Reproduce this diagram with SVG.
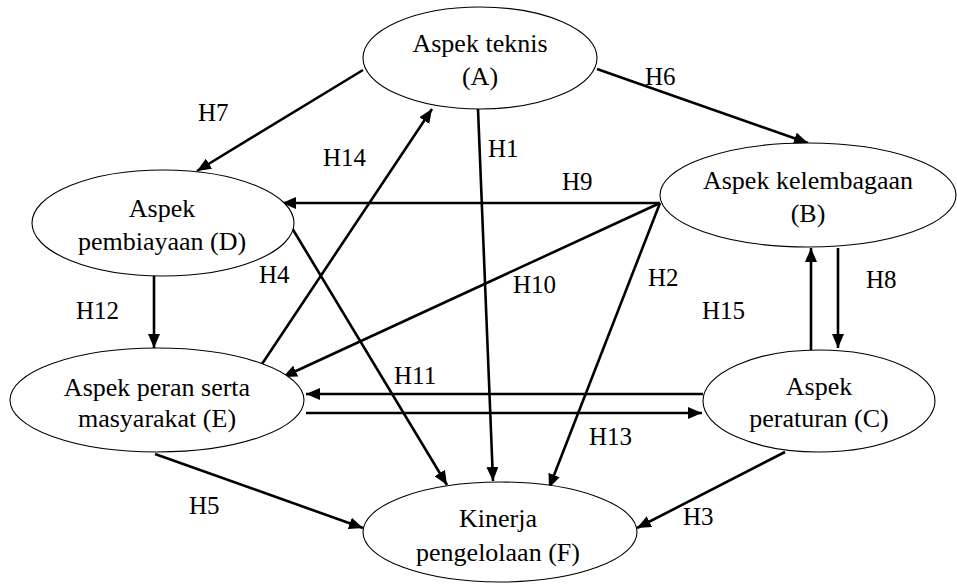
<svg xmlns="http://www.w3.org/2000/svg" width="957" height="584" viewBox="0 0 957 584">
  <style>
    .node ellipse { fill: #ffffff; stroke: #000000; stroke-width: 1.1; }
    .node text { font-family: "Liberation Serif", "Times New Roman", serif; font-size: 26px; fill: #000000; text-anchor: middle; }
    .edges line { stroke: #000000; stroke-width: 2.6; marker-end: url(#arrow); }
    .labels text { font-family: "Liberation Serif", "Times New Roman", serif; font-size: 25px; fill: #000000; }
  </style>
  <defs>
    <marker id="arrow" markerUnits="userSpaceOnUse" markerWidth="14" markerHeight="12" viewBox="0 0 14 12" refX="14" refY="6" orient="auto">
      <path d="M0,0 L14,6 L0,12 Z" fill="#000000"/>
    </marker>
  </defs>
  <rect width="957" height="584" fill="#ffffff"/>

  <g class="edges" id="connectors">
    <line x1="363" y1="70" x2="197" y2="171"/>
    <line x1="262" y1="364" x2="432" y2="109"/>
    <line x1="597" y1="69" x2="808" y2="143"/>
    <line x1="478" y1="109" x2="493" y2="481"/>
    <line x1="660" y1="203" x2="282" y2="203"/>
    <line x1="660" y1="203" x2="283" y2="377"/>
    <line x1="660" y1="203" x2="549" y2="488"/>
    <line x1="292" y1="228" x2="447" y2="485"/>
    <line x1="154" y1="276" x2="154" y2="348"/>
    <line x1="703" y1="394" x2="306" y2="394"/>
    <line x1="306" y1="413" x2="702" y2="413"/>
    <line x1="811" y1="350" x2="811" y2="248"/>
    <line x1="838" y1="248" x2="838" y2="348"/>
    <line x1="155" y1="454" x2="363" y2="528"/>
    <line x1="785" y1="452" x2="637" y2="528"/>
  </g>

  <g class="labels" id="edge-labels">
    <text x="198" y="121">H7</text>
    <text x="323" y="166">H14</text>
    <text x="645" y="85">H6</text>
    <text x="488" y="157">H1</text>
    <text x="562" y="190">H9</text>
    <text x="259" y="283">H4</text>
    <text x="513" y="293">H10</text>
    <text x="648" y="286">H2</text>
    <text x="76" y="319">H12</text>
    <text x="702" y="319">H15</text>
    <text x="866" y="288">H8</text>
    <text x="394" y="384">H11</text>
    <text x="589" y="445">H13</text>
    <text x="189" y="514">H5</text>
    <text x="683" y="525">H3</text>
  </g>

  <g class="node" id="node-A">
    <ellipse cx="480" cy="58" rx="117" ry="51"/>
    <text x="480" y="52">Aspek teknis</text>
    <text x="480" y="85">(A)</text>
  </g>
  <g class="node" id="node-B">
    <ellipse cx="808" cy="195" rx="148" ry="52"/>
    <text x="808" y="189">Aspek kelembagaan</text>
    <text x="808" y="222">(B)</text>
  </g>
  <g class="node" id="node-D">
    <ellipse cx="163" cy="223" rx="131" ry="53"/>
    <text x="162" y="217">Aspek</text>
    <text x="162" y="250">pembiayaan (D)</text>
  </g>
  <g class="node" id="node-E">
    <ellipse cx="157" cy="400" rx="147" ry="52"/>
    <text x="157" y="396">Aspek peran serta</text>
    <text x="157" y="427">masyarakat (E)</text>
  </g>
  <g class="node" id="node-C">
    <ellipse cx="819" cy="401" rx="116" ry="51"/>
    <text x="819" y="395">Aspek</text>
    <text x="819" y="427">peraturan (C)</text>
  </g>
  <g class="node" id="node-F">
    <ellipse cx="500" cy="532" rx="137" ry="50"/>
    <text x="498" y="527">Kinerja</text>
    <text x="498" y="561">pengelolaan (F)</text>
  </g>
</svg>
